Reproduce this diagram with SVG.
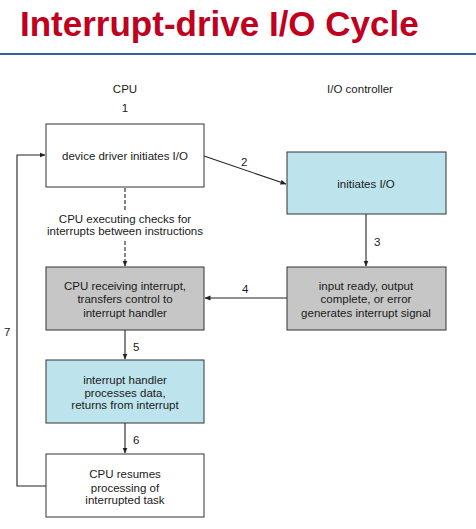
<svg xmlns="http://www.w3.org/2000/svg" width="476" height="529" viewBox="0 0 476 529">
<style>
text{font-family:"Liberation Sans",Arial,sans-serif;fill:#1a1a1a}
.t{font-size:11.5px;text-anchor:middle}
.n{font-size:11.5px}
.box{stroke:#333;stroke-width:1}
.w{fill:#fff}
.b{fill:#bde4ec}
.g{fill:#c6c6c6}
.ln{stroke:#222;stroke-width:1.1;fill:none}
</style>
<defs>
<marker id="ah" markerWidth="6" markerHeight="6" refX="5.5" refY="3" orient="auto" markerUnits="userSpaceOnUse">
<path d="M0,0.5 L6,3 L0,5.5 Z" fill="#222"/>
</marker>
</defs>
<rect width="476" height="529" fill="#fff"/>
<text x="20" y="36" style="font-size:35px;font-weight:bold;fill:#c0001e">Interrupt-drive I/O Cycle</text>
<line x1="0" y1="54" x2="476" y2="54" stroke="#2f6496" stroke-width="2"/>
<text class="t" x="125" y="93">CPU</text>
<text class="t" x="360" y="93">I/O controller</text>
<text class="t" x="125" y="112">1</text>

<g id="connectors">
<line class="ln" x1="204" y1="156" x2="286" y2="184" marker-end="url(#ah)"/>
<text class="n" x="241" y="166">2</text>
<line class="ln" x1="125" y1="188" x2="125" y2="212" stroke-dasharray="4,2"/>
<line class="ln" x1="125" y1="241" x2="125" y2="266" stroke-dasharray="4,2" marker-end="url(#ah)"/>
<text class="t" x="125" y="223">CPU executing checks for</text>
<text class="t" x="125" y="235">interrupts between instructions</text>
<line class="ln" x1="366" y1="214" x2="366" y2="266" marker-end="url(#ah)"/>
<text class="n" x="374" y="246">3</text>
<line class="ln" x1="287" y1="298" x2="205" y2="298" marker-end="url(#ah)"/>
<text class="n" x="242" y="293">4</text>
<line class="ln" x1="125" y1="330" x2="125" y2="359" marker-end="url(#ah)"/>
<text class="n" x="133" y="351">5</text>
<line class="ln" x1="125" y1="423" x2="125" y2="453" marker-end="url(#ah)"/>
<text class="n" x="133" y="444">6</text>
<polyline class="ln" points="46,486 17,486 17,155 45,155" marker-end="url(#ah)"/>
<text class="n" x="4" y="336">7</text>
</g>

<g id="n1">
<rect class="box w" x="46" y="124" width="158" height="63"/>
<text class="t" x="125" y="160">device driver initiates I/O</text>
</g>
<g id="n2">
<rect class="box b" x="287" y="152" width="159" height="62"/>
<text class="t" x="366" y="188">initiates I/O</text>
</g>
<g id="n3">
<rect class="box g" x="46" y="267" width="158" height="63"/>
<text class="t" x="125" y="290">CPU receiving interrupt,</text>
<text class="t" x="125" y="303">transfers control to</text>
<text class="t" x="125" y="317">interrupt handler</text>
</g>
<g id="n4">
<rect class="box g" x="287" y="267" width="159" height="63"/>
<text class="t" x="366" y="290">input ready, output</text>
<text class="t" x="366" y="303">complete, or error</text>
<text class="t" x="366" y="317">generates interrupt signal</text>
</g>
<g id="n5">
<rect class="box b" x="46" y="360" width="158" height="63"/>
<text class="t" x="125" y="384">interrupt handler</text>
<text class="t" x="125" y="397">processes data,</text>
<text class="t" x="125" y="409">returns from interrupt</text>
</g>
<g id="n6">
<rect class="box w" x="46" y="454" width="158" height="63"/>
<text class="t" x="125" y="478">CPU resumes</text>
<text class="t" x="125" y="492">processing of</text>
<text class="t" x="125" y="504">interrupted task</text>
</g>
</svg>
